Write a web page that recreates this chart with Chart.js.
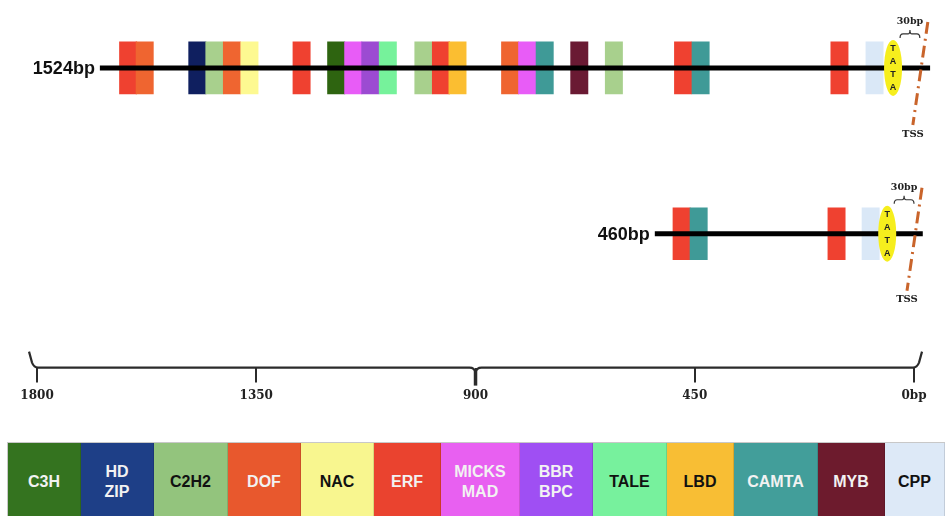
<!DOCTYPE html>
<html>
<head>
<meta charset="utf-8">
<title>Promoter cis-elements</title>
<script src="https://cdn.jsdelivr.net/npm/chart.js"></script>
<style>
  body { margin: 0; background: #fff; }
  #wrap { position: absolute; left: 0; top: 0; width: 945px; height: 440px; }
  #legend { position: absolute; left: 7px; top: 442px; height: 74px; display: flex;
            border-top: 1px solid #c8c8c8; border-left: 1px solid #c8c8c8; }
  #legend div { display: flex; align-items: center; justify-content: center; text-align: center;
                font: bold 16px "Liberation Sans", Arial, sans-serif; line-height: 20px;
                box-sizing: border-box; border-right: 1px solid rgba(0,0,0,0.12); padding-top: 4px; }
</style>
</head>
<body>
<div id="wrap"><canvas id="promoterChart"></canvas></div>
<div id="legend"></div>
<script>
// Data (positions in bp upstream of the TSS)
const families = ['C3H', 'HD ZIP', 'C2H2', 'DOF', 'NAC', 'ERF', 'MICKS MAD', 'BBR BPC', 'TALE', 'LBD', 'CAMTA', 'MYB', 'CPP'];

const rowLabels = ['1524bp', '460bp'];
const rowY = [1, 2];
const rowStart = [1671, 532];
const rowEnd = [-33, -18];

const row1Sites = ['ERF', 'DOF', 'HD ZIP', 'C2H2', 'DOF', 'NAC', 'ERF', 'C3H', 'MICKS MAD', 'BBR BPC', 'TALE',
                   'C2H2', 'ERF', 'LBD', 'DOF', 'MICKS MAD', 'CAMTA', 'MYB', 'C2H2', 'ERF', 'CAMTA', 'ERF', 'CPP'];
const row1Pos = [1613, 1579, 1471, 1436, 1400, 1364, 1257, 1186, 1151, 1116, 1080,
                 1007, 971, 937, 829, 794, 758, 687, 616, 474, 438, 153, 81];

const row2Sites = ['ERF', 'CAMTA', 'ERF', 'CPP'];
const row2Pos = [477, 442, 159, 89];

const tataPos = [43, 55];
const tssPos = [-14, -2];
const spacerLabel = '30bp';

const axisTicks = [1800, 1350, 900, 450, 0];
const axisTickLabels = ['1800', '1350', '900', '450', '0bp'];

// Styles
const markColors = ['#2e6410', '#0f1f5f', '#a8d08d', '#ef6530', '#fdf991', '#ef4130', '#e85cf7',
                    '#9c4bd2', '#76f29b', '#fbbe31', '#3f9a97', '#6a1a33', '#dae8f7'];
const legendColors = ['#34731f', '#1e3f87', '#93c47d', '#e8582d', '#f8f68f', '#ea432f', '#e860f1',
                      '#9f4ff3', '#77f19d', '#f8be34', '#429e9a', '#6d1b2d', '#dde9f7'];
const legendTextColors = ['#f2f2f2', '#f2f2f2', '#111', '#f2f2f2', '#111', '#f2f2f2', '#f2f2f2',
                          '#f2f2f2', '#111', '#111', '#f2f2f2', '#f2f2f2', '#111'];
const legendWidths = [73, 73, 74, 73, 73, 67, 79, 73, 74, 67, 84, 67, 60];
const SITE_HALF = 17.75;

function siteBars(sites, pos, y) {
    return sites.map((f, i) => ({ x: [pos[i] - SITE_HALF, pos[i] + SITE_HALF], y: y, family: f }));
}

const barData = siteBars(row1Sites, row1Pos, rowY[0]).concat(siteBars(row2Sites, row2Pos, rowY[1]));
const barColors = barData.map(d => markColors[families.indexOf(d.family)]);

const lineSets = rowLabels.map((label, i) => ({
    type: 'line',
    label: label,
    data: [{ x: rowStart[i], y: rowY[i] }, { x: rowEnd[i], y: rowY[i] }],
    borderColor: '#000',
    borderWidth: 5,
    pointRadius: 0,
    order: 0
}));

// Extra marks: labels, TATA boxes, TSS, braces
const promoterMarks = {
    id: 'promoterMarks',
    afterDatasetsDraw(chart) {
        const { ctx, scales: { x, y }, chartArea } = chart;
        ctx.save();
        ctx.textBaseline = 'middle';

        rowLabels.forEach((label, i) => {
            const cy = y.getPixelForValue(rowY[i]);
            const tata = x.getPixelForValue(tataPos[i]);
            const tss = x.getPixelForValue(tssPos[i]);

            ctx.fillStyle = '#111';
            ctx.font = 'bold 18px "Liberation Sans", Arial, sans-serif';
            ctx.textAlign = 'right';
            ctx.fillText(label, x.getPixelForValue(rowStart[i]) - 5, cy + 1);

            // TATA
            ctx.fillStyle = '#f6ee1d';
            ctx.beginPath();
            ctx.ellipse(tata, cy, 9, 28, 0, 0, Math.PI * 2);
            ctx.fill();
            ctx.fillStyle = '#222';
            ctx.font = 'bold 9px "Liberation Sans", Arial, sans-serif';
            ctx.textAlign = 'center';
            ['T', 'A', 'T', 'A'].forEach((c, k) => ctx.fillText(c, tata, cy - 19.5 + k * 13));

            // TSS dash-dot line
            ctx.strokeStyle = '#c9642b';
            ctx.lineWidth = 3;
            ctx.setLineDash([12, 5, 2, 5]);
            ctx.beginPath();
            ctx.moveTo(tss + 7, cy - 46);
            ctx.lineTo(tss - 8, cy + 57);
            ctx.stroke();
            ctx.setLineDash([]);
            ctx.fillStyle = '#222';
            ctx.font = 'bold 10px "DejaVu Serif", serif';
            ctx.fillText('TSS', tss - 8, cy + 66);

            // 30bp brace
            const left = tata + 7, right = tss - 1, mid = (left + right) / 2, by = cy - 34;
            ctx.strokeStyle = '#333';
            ctx.lineWidth = 1.2;
            ctx.beginPath();
            ctx.moveTo(left, by + 4);
            ctx.quadraticCurveTo(left, by, left + 3, by);
            ctx.lineTo(mid - 2, by);
            ctx.quadraticCurveTo(mid, by, mid, by - 4);
            ctx.quadraticCurveTo(mid, by, mid + 2, by);
            ctx.lineTo(right - 3, by);
            ctx.quadraticCurveTo(right, by, right, by + 4);
            ctx.stroke();
            ctx.font = 'bold 9.5px "DejaVu Serif", serif';
            ctx.fillText(spacerLabel, mid, cy - 46);
        });

        // scale brace
        const L = x.getPixelForValue(axisTicks[0]);
        const R = x.getPixelForValue(axisTicks[axisTicks.length - 1]);
        const M = x.getPixelForValue(axisTicks[2]);
        const by = chartArea.bottom;
        ctx.strokeStyle = '#2b2b2b';
        ctx.lineWidth = 2.2;
        ctx.beginPath();
        ctx.moveTo(L - 8, by - 16);
        ctx.lineTo(L - 5, by - 5);
        ctx.quadraticCurveTo(L - 3, by, L + 1, by);
        ctx.lineTo(M - 6, by);
        ctx.quadraticCurveTo(M - 1, by, M, by + 5);
        ctx.quadraticCurveTo(M + 1, by, M + 6, by);
        ctx.lineTo(R - 1, by);
        ctx.quadraticCurveTo(R + 3, by, R + 5, by - 5);
        ctx.lineTo(R + 8, by - 16);
        ctx.stroke();
        ctx.lineWidth = 3.5;
        ctx.beginPath();
        ctx.moveTo(M, by + 3);
        ctx.lineTo(M, by + 18);
        ctx.stroke();
        ctx.restore();
    }
};

new Chart(document.getElementById('promoterChart'), {
    type: 'bar',
    data: {
        datasets: [{
            label: 'sites',
            data: barData,
            backgroundColor: barColors,
            borderWidth: 0,
            barThickness: 52,
            order: 1
        }].concat(lineSets)
    },
    options: {
        indexAxis: 'y',
        responsive: true,
        maintainAspectRatio: false,
        animation: false,
        layout: { padding: { left: 0, right: 0, top: 0, bottom: 31 } },
        plugins: {
            legend: { display: false },
            tooltip: { enabled: false }
        },
        scales: {
            x: {
                type: 'linear',
                reverse: true,
                offset: false,
                min: -63.6,
                max: 1876,
                stacked: false,
                afterBuildTicks: axis => { axis.ticks = axisTicks.map(v => ({ value: v })); },
                grid: { drawOnChartArea: false, drawTicks: true, tickLength: 15, color: '#2b2b2b', lineWidth: 2 },
                border: { display: false },
                ticks: {
                    autoSkip: false,
                    maxRotation: 0,
                    padding: 6,
                    color: '#222',
                    font: { family: '"DejaVu Serif", serif', size: 12, weight: 'bold' },
                    callback: (value, index) => axisTickLabels[index]
                }
            },
            y: {
                type: 'linear',
                reverse: true,
                offset: false,
                min: 0.5904,
                max: 2.8073,
                display: false
            }
        }
    },
    plugins: [promoterMarks]
});

// Legend strip
const legendEl = document.getElementById('legend');
families.forEach((f, i) => {
    const cell = document.createElement('div');
    cell.style.width = legendWidths[i] + 'px';
    cell.style.background = legendColors[i];
    cell.style.color = legendTextColors[i];
    cell.innerHTML = f.split(' ').join('<br>');
    legendEl.appendChild(cell);
});
</script>
</body>
</html>
